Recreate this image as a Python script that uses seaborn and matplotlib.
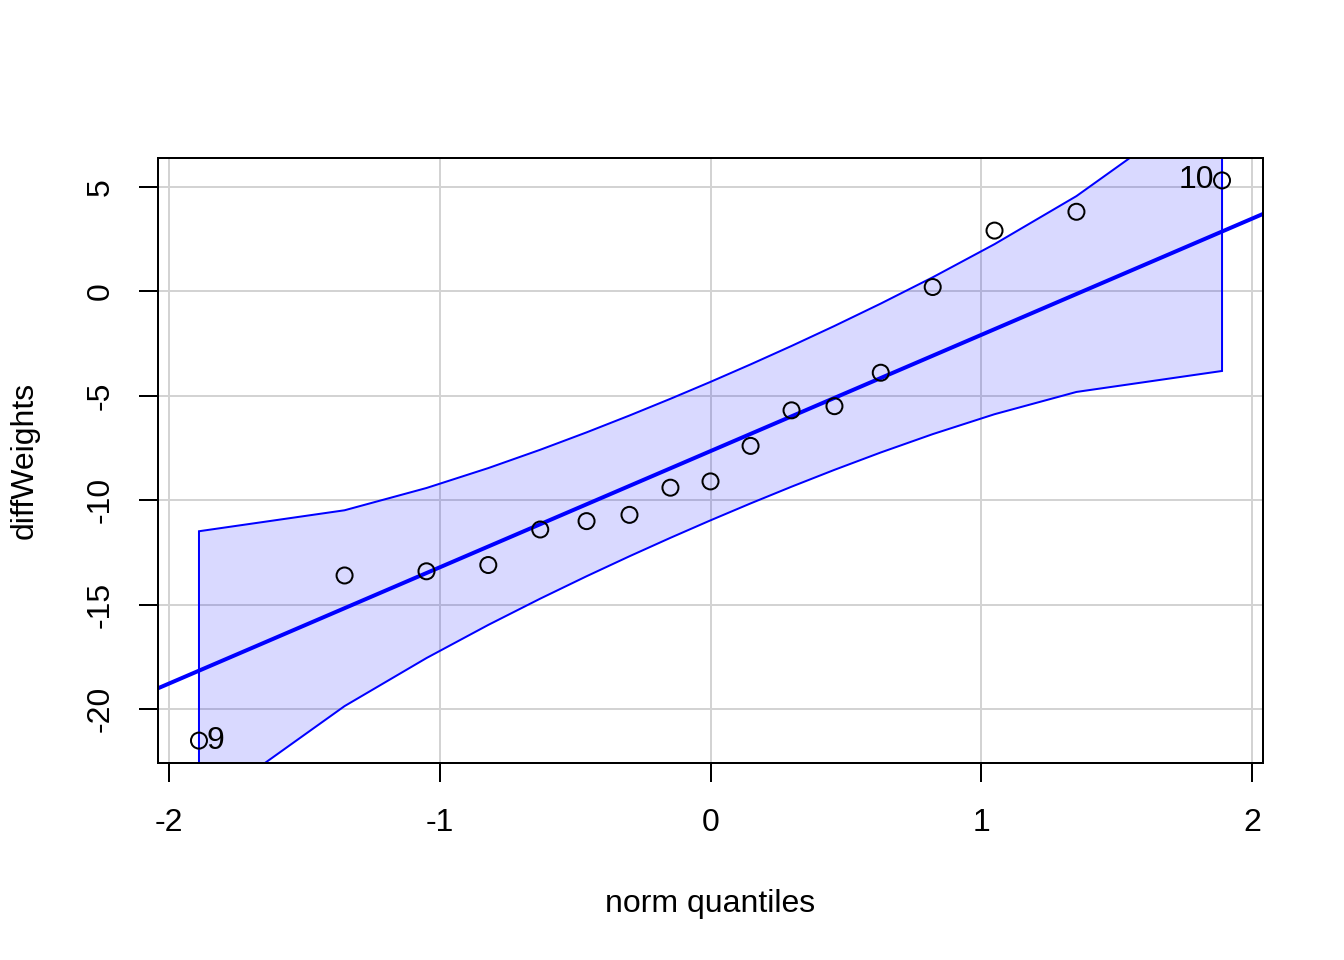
import numpy as np
import pandas as pd
import matplotlib
matplotlib.use("Agg")
import matplotlib.pyplot as plt
import seaborn as sns
from statistics import NormalDist

# sorted diffWeights values
diff_weights = [-21.5, -13.6, -13.4, -13.1, -11.4, -11.0, -10.7, -9.4, -9.1,
                -7.4, -5.7, -5.5, -3.9, 0.2, 2.9, 3.8, 5.3]
point_labels = {0: "9", 16: "10"}  # index in sorted order -> observation id
x_ticks = [-2, -1, 0, 1, 2]
y_ticks = [-20, -15, -10, -5, 0, 5]
conf_level = 0.95


def main():
    nd = NormalDist()
    y = np.array(diff_weights)
    n = len(y)
    P = (np.arange(1, n + 1) - 0.5) / n
    z = np.array([nd.inv_cdf(p) for p in P])

    # robust line through the quartiles (as car::qqPlot does)
    q1, q3 = np.percentile(y, [25, 75])
    b = (q3 - q1) / (nd.inv_cdf(0.75) - nd.inv_cdf(0.25))
    a = q1 - b * nd.inv_cdf(0.25)

    # pointwise confidence envelope
    zz = nd.inv_cdf(1 - (1 - conf_level) / 2)
    dens = np.array([nd.pdf(v) for v in z])
    se = (b / dens) * np.sqrt(P * (1 - P) / n)
    fit = a + b * z
    upper = fit + zz * se
    lower = fit - zz * se

    df = pd.DataFrame({"z": z, "y": y, "upper": upper, "lower": lower})

    sns.set_theme(style="white")
    plt.rcParams["font.family"] = ["Liberation Sans", "DejaVu Sans"]
    plt.rcParams["font.size"] = 12

    fig, ax = plt.subplots(figsize=(7, 5), dpi=192)
    fig.subplots_adjust(left=0.1176, right=0.9397, bottom=0.2052, top=0.8354)

    xpad = (z.max() - z.min()) * 0.04
    ypad = (y.max() - y.min()) * 0.04
    ax.set_xlim(z.min() - xpad, z.max() + xpad)
    ax.set_ylim(y.min() - ypad, y.max() + ypad)

    for t in x_ticks:
        ax.axvline(t, color="#d3d3d3", lw=0.75, zorder=0)
    for t in y_ticks:
        ax.axhline(t, color="#d3d3d3", lw=0.75, zorder=0)

    ax.fill(np.r_[df["z"], df["z"][::-1]], np.r_[df["upper"], df["lower"][::-1]],
            facecolor=(0, 0, 1, 0.15), edgecolor="blue", lw=0.75, zorder=1)

    xs = np.array(ax.get_xlim())
    sns.lineplot(x=xs, y=a + b * xs, color="blue", lw=1.5, ax=ax, zorder=2)

    sns.scatterplot(data=df, x="z", y="y", marker="o", s=36, facecolors="none",
                    edgecolor="black", linewidth=0.75, ax=ax, zorder=3)

    for i, lab in point_labels.items():
        if z[i] < 0:
            ax.annotate(lab, (z[i], y[i]), xytext=(3, 0), textcoords="offset points",
                        ha="left", va="center", fontsize=12, color="black")
        else:
            ax.annotate(lab, (z[i], y[i]), xytext=(-3, 0), textcoords="offset points",
                        ha="right", va="center", fontsize=12, color="black")

    ax.set_xticks(x_ticks)
    ax.set_yticks(y_ticks)
    ax.set_xticklabels([str(t) for t in x_ticks])
    ax.set_yticklabels([str(t) for t in y_ticks], rotation=90, va="center")
    ax.tick_params(axis="both", direction="out", length=7, width=0.75,
                   colors="black", labelsize=12, bottom=True, left=True)
    ax.tick_params(axis="x", pad=10)
    ax.tick_params(axis="y", pad=9)

    for sp in ax.spines.values():
        sp.set_color("black")
        sp.set_linewidth(0.75)

    ax.set_xlabel("norm quantiles", fontsize=12, color="black", labelpad=19)
    ax.set_ylabel("diffWeights", fontsize=12, color="black", labelpad=17)

    fig.savefig("out.png", dpi=192, facecolor="white")


if __name__ == "__main__":
    main()
